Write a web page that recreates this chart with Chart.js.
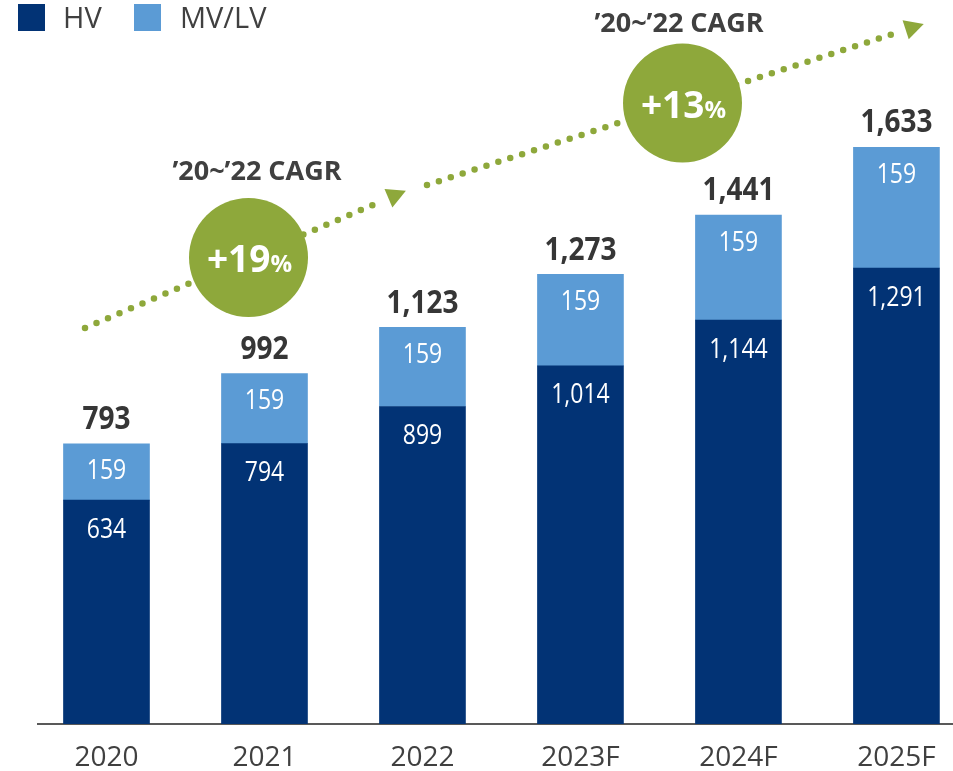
<!DOCTYPE html>
<html><head><meta charset="utf-8">
<script src="https://cdn.jsdelivr.net/npm/chart.js@4.4.0/dist/chart.umd.min.js"></script>
<style>html,body{margin:0;padding:0;background:#fff;overflow:hidden}#wrap{width:953px;height:771px;position:relative}</style>
</head><body><div id="wrap"><canvas id="c"></canvas></div>
<script>
const categories = ['2020', '2021', '2022', '2023F', '2024F', '2025F'];
const hvValues = [634, 794, 899, 1014, 1144, 1291];
const mvlvLabels = [159, 159, 159, 159, 159, 159];
const totalValues = [793, 992, 1123, 1273, 1441, 1633];
const seriesNames = ['HV', 'MV/LV'];
const cagrTitles = ['\u201920~\u201922 CAGR', '\u201920~\u201922 CAGR'];
const cagrValues = ['+19', '+13'];

const NAVY = '#023375', LIGHT = '#5B9BD5', GREEN = '#8EA83B', TEXT = '#404040';
const FONT = "'Open Sans', 'Noto Sans', sans-serif";
const fmt = v => v.toLocaleString('en-US');

const hvData = hvValues.map((v, i) => ({x: i, y: v}));
const mvData = totalValues.map((t, i) => ({x: i, y: t - hvValues[i]}));

function tallText(ctx, text, x, y, sy) {
  ctx.save();
  ctx.translate(x, y);
  ctx.scale(1, sy);
  ctx.fillText(text, 0, 0);
  ctx.restore();
}

const legendPlugin = {
  id: 'customLegend',
  afterDraw(chart) {
    const ctx = chart.ctx;
    const items = [{c: NAVY, x: 18, tx: 63}, {c: LIGHT, x: 134, tx: 180}];
    ctx.save();
    ctx.font = '29px ' + FONT;
    ctx.textBaseline = 'alphabetic';
    ctx.textAlign = 'left';
    items.forEach((it, i) => {
      ctx.fillStyle = it.c;
      ctx.fillRect(it.x, 4, 27, 27);
      ctx.fillStyle = TEXT;
      ctx.fillText(seriesNames[i], it.tx, 28);
    });
    ctx.restore();
  }
};

const labelPlugin = {
  id: 'barLabels',
  afterDatasetsDraw(chart) {
    const ctx = chart.ctx;
    const m0 = chart.getDatasetMeta(0), m1 = chart.getDatasetMeta(1);
    ctx.save();
    ctx.textAlign = 'center';
    ctx.textBaseline = 'middle';
    ctx.fillStyle = '#ffffff';
    ctx.font = '23px ' + FONT;
    m0.data.forEach((el, i) => tallText(ctx, fmt(hvValues[i]), el.x, el.y + 30, 1.15));
    m1.data.forEach((el, i) => tallText(ctx, fmt(mvlvLabels[i]), el.x, el.y + 28, 1.15));
    ctx.fillStyle = '#363636';
    ctx.font = 'bold 28px ' + FONT;
    m1.data.forEach((el, i) => tallText(ctx, fmt(totalValues[i]), el.x, el.y - 24, 1.15));
    ctx.restore();
  }
};

function dotted(ctx, x1, y1, x2, y2) {
  ctx.save();
  ctx.strokeStyle = GREEN;
  ctx.lineWidth = 6.5;
  ctx.lineCap = 'round';
  ctx.setLineDash([0, 12.5]);
  ctx.beginPath();
  ctx.moveTo(x1, y1);
  ctx.lineTo(x2, y2);
  ctx.stroke();
  ctx.restore();
  const a = Math.atan2(y2 - y1, x2 - x1);
  const bx = x2 + Math.cos(a) * 7, by = y2 + Math.sin(a) * 7;
  const tx = bx + Math.cos(a) * 19, ty = by + Math.sin(a) * 19;
  const px = -Math.sin(a) * 10, py = Math.cos(a) * 10;
  ctx.save();
  ctx.fillStyle = GREEN;
  ctx.beginPath();
  ctx.moveTo(tx, ty);
  ctx.lineTo(bx + px, by + py);
  ctx.lineTo(bx - px, by - py);
  ctx.closePath();
  ctx.fill();
  ctx.restore();
}

function badge(ctx, cx, cy, title, value) {
  ctx.save();
  ctx.fillStyle = GREEN;
  ctx.beginPath();
  ctx.arc(cx, cy, 59.5, 0, Math.PI * 2);
  ctx.fill();
  ctx.fillStyle = '#ffffff';
  ctx.textBaseline = 'alphabetic';
  ctx.textAlign = 'left';
  ctx.font = 'bold 37px ' + FONT;
  const w1 = ctx.measureText(value).width;
  ctx.font = 'bold 24px ' + FONT;
  const w2 = ctx.measureText('%').width;
  const sx = cx - (w1 + w2) / 2 + 1;
  ctx.font = 'bold 37px ' + FONT;
  ctx.fillText(value, sx, cy + 14.5);
  ctx.font = 'bold 24px ' + FONT;
  ctx.fillText('%', sx + w1, cy + 14.5);
  ctx.restore();
}

const cagrPlugin = {
  id: 'cagr',
  afterDraw(chart) {
    const ctx = chart.ctx;
    dotted(ctx, 85, 328, 382, 201);
    dotted(ctx, 427, 185, 899, 32);
    badge(ctx, 248.5, 257.5, cagrTitles[0], cagrValues[0]);
    badge(ctx, 682.5, 103, cagrTitles[1], cagrValues[1]);
    ctx.save();
    ctx.fillStyle = TEXT;
    ctx.font = 'bold 27px ' + FONT;
    ctx.textAlign = 'center';
    ctx.textBaseline = 'alphabetic';
    ctx.fillText(cagrTitles[0], 257, 180);
    ctx.fillText(cagrTitles[1], 679, 32);
    ctx.restore();
  }
};

new Chart(document.getElementById('c'), {
  type: 'bar',
  data: {
    datasets: [
      {label: seriesNames[0], data: hvData, backgroundColor: NAVY, barThickness: 86},
      {label: seriesNames[1], data: mvData, backgroundColor: LIGHT, barThickness: 86}
    ]
  },
  options: {
    responsive: true,
    maintainAspectRatio: false,
    animation: false,
    devicePixelRatio: 1,
    layout: {padding: {left: 38, right: 0, top: 0, bottom: 0}},
    plugins: {legend: {display: false}, tooltip: {enabled: false}},
    scales: {
      x: {
        type: 'linear',
        stacked: true,
        offset: false,
        min: -0.4335,
        max: 5.358,
        grid: {display: false, drawTicks: false, offset: false},
        border: {display: true, color: '#595959', width: 2},
        afterBuildTicks: s => { s.ticks = categories.map((c, i) => ({value: i})); },
        afterFit: s => { s.height = 47; },
        ticks: {
          autoSkip: false, maxRotation: 0, padding: 17,
          color: TEXT, font: {family: FONT, size: 28},
          callback: v => categories[Math.round(v)]
        }
      },
      y: {
        stacked: true, display: false, min: 0, max: 2050
      }
    }
  },
  plugins: [legendPlugin, labelPlugin, cagrPlugin]
});
</script></body></html>
